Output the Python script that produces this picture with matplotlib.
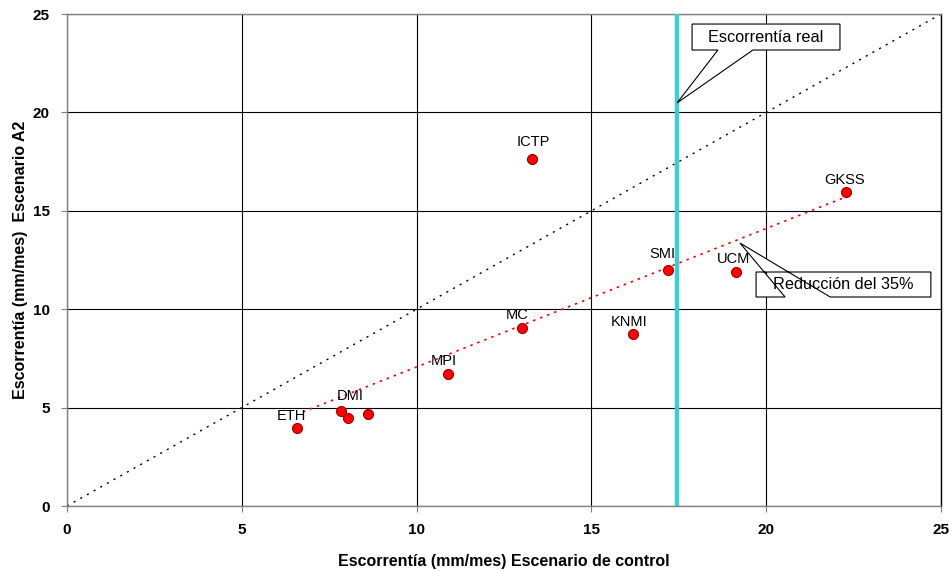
import numpy as np
import matplotlib
matplotlib.use('Agg')
import matplotlib.pyplot as plt
from matplotlib.patches import Polygon

plt.rcParams['font.family'] = ['Liberation Sans', 'DejaVu Sans']

#--- data
models = ['ETH', 'DMI', '', '', 'MPI', 'MC', 'ICTP', 'KNMI', 'SMI', 'UCM', 'GKSS']
control = [6.58, 7.84, 8.04, 8.61, 10.90, 13.01, 13.30, 16.19, 17.19, 19.14, 22.28]
a2 = [3.96, 4.83, 4.47, 4.67, 6.71, 9.04, 17.63, 8.74, 11.99, 11.89, 15.96]

# trend line ("Reducción del 35%") endpoints and observed runoff
trend_x = [6.75, 22.20]
trend_y = [4.78, 15.65]
real_runoff = 17.45

# label offsets in pixels (dx, dy)
offsets = {'ETH': (-6, 12), 'DMI': (9, 15), 'MPI': (-4, 13), 'MC': (-5, 13),
           'ICTP': (1, 17), 'KNMI': (-4, 12), 'SMI': (-6, 16), 'UCM': (-3, 13),
           'GKSS': (-1, 12)}

fig = plt.figure(figsize=(9.53, 5.71), dpi=100)
ax = fig.add_axes([67/953, 65/571, 874/953, 492/571])

ax.set_xlim(0, 25)
ax.set_ylim(0, 25)
ax.set_xticks(np.arange(0, 26, 5))
ax.set_yticks(np.arange(0, 26, 5))
ax.grid(True, color='black', linewidth=0.8)
ax.set_axisbelow(True)
for s in ['left', 'bottom', 'top']:
    ax.spines[s].set_color('#808080')
ax.spines['right'].set_color('black')
for s in ax.spines.values():
    s.set_linewidth(1.0)
ax.tick_params(direction='out', length=4, width=0.8, color='#808080', pad=8.5,
               labelsize=11)
for lbl in ax.get_xticklabels() + ax.get_yticklabels():
    lbl.set_fontweight('bold')

# 1:1 line
ax.plot([0, 25], [0, 25], color='black', linestyle=(0, (1.5, 4)), linewidth=1.0, zorder=2)
# trend line
ax.plot(trend_x, trend_y, color='red', linestyle=(0, (1.5, 3)), linewidth=1.2, zorder=2)
# observed runoff
ax.axvline(real_runoff, color='#3ccfcf', linewidth=3.2, zorder=3)

ax.plot(control, a2, 'o', markersize=7.2, markerfacecolor='#ff0000',
        markeredgecolor='#990000', markeredgewidth=0.8, zorder=4)
for name, x, y in zip(models, control, a2):
    if name:
        dx, dy = offsets[name]
        ax.annotate(name, (x, y), xytext=(dx, dy), textcoords='offset pixels',
                    ha='center', va='center', fontsize=10.5, zorder=5)

# callouts
def callout(ax, x0, x1, y0, y1, bx0, bx1, tip, text):
    pts = [(x0, y1), (x1, y1), (x1, y0), (bx1, y0), tip, (bx0, y0), (x0, y0)]
    ax.add_patch(Polygon(pts, closed=True, facecolor='white', edgecolor='black',
                         linewidth=0.8, zorder=6))
    ax.text((x0 + x1) / 2, (y0 + y1) / 2, text, ha='center', va='center',
            fontsize=11.7, zorder=7)

callout(ax, 17.88, 22.11, 23.17, 24.49, 18.62, 19.62, (real_runoff, 20.48), 'Escorrentía real')
callout(ax, 19.71, 24.71, 10.62, 11.89, 20.54, 21.83, (19.25, 13.36), 'Reducción del 35%')

ax.set_xlabel('Escorrentía (mm/mes) Escenario de control', fontsize=11.5,
              fontweight='bold', labelpad=12)
ax.set_ylabel('Escorrentía (mm/mes)  Escenario A2', fontsize=11.5,
              fontweight='bold', labelpad=3)

fig.savefig('out.png', dpi=100)
